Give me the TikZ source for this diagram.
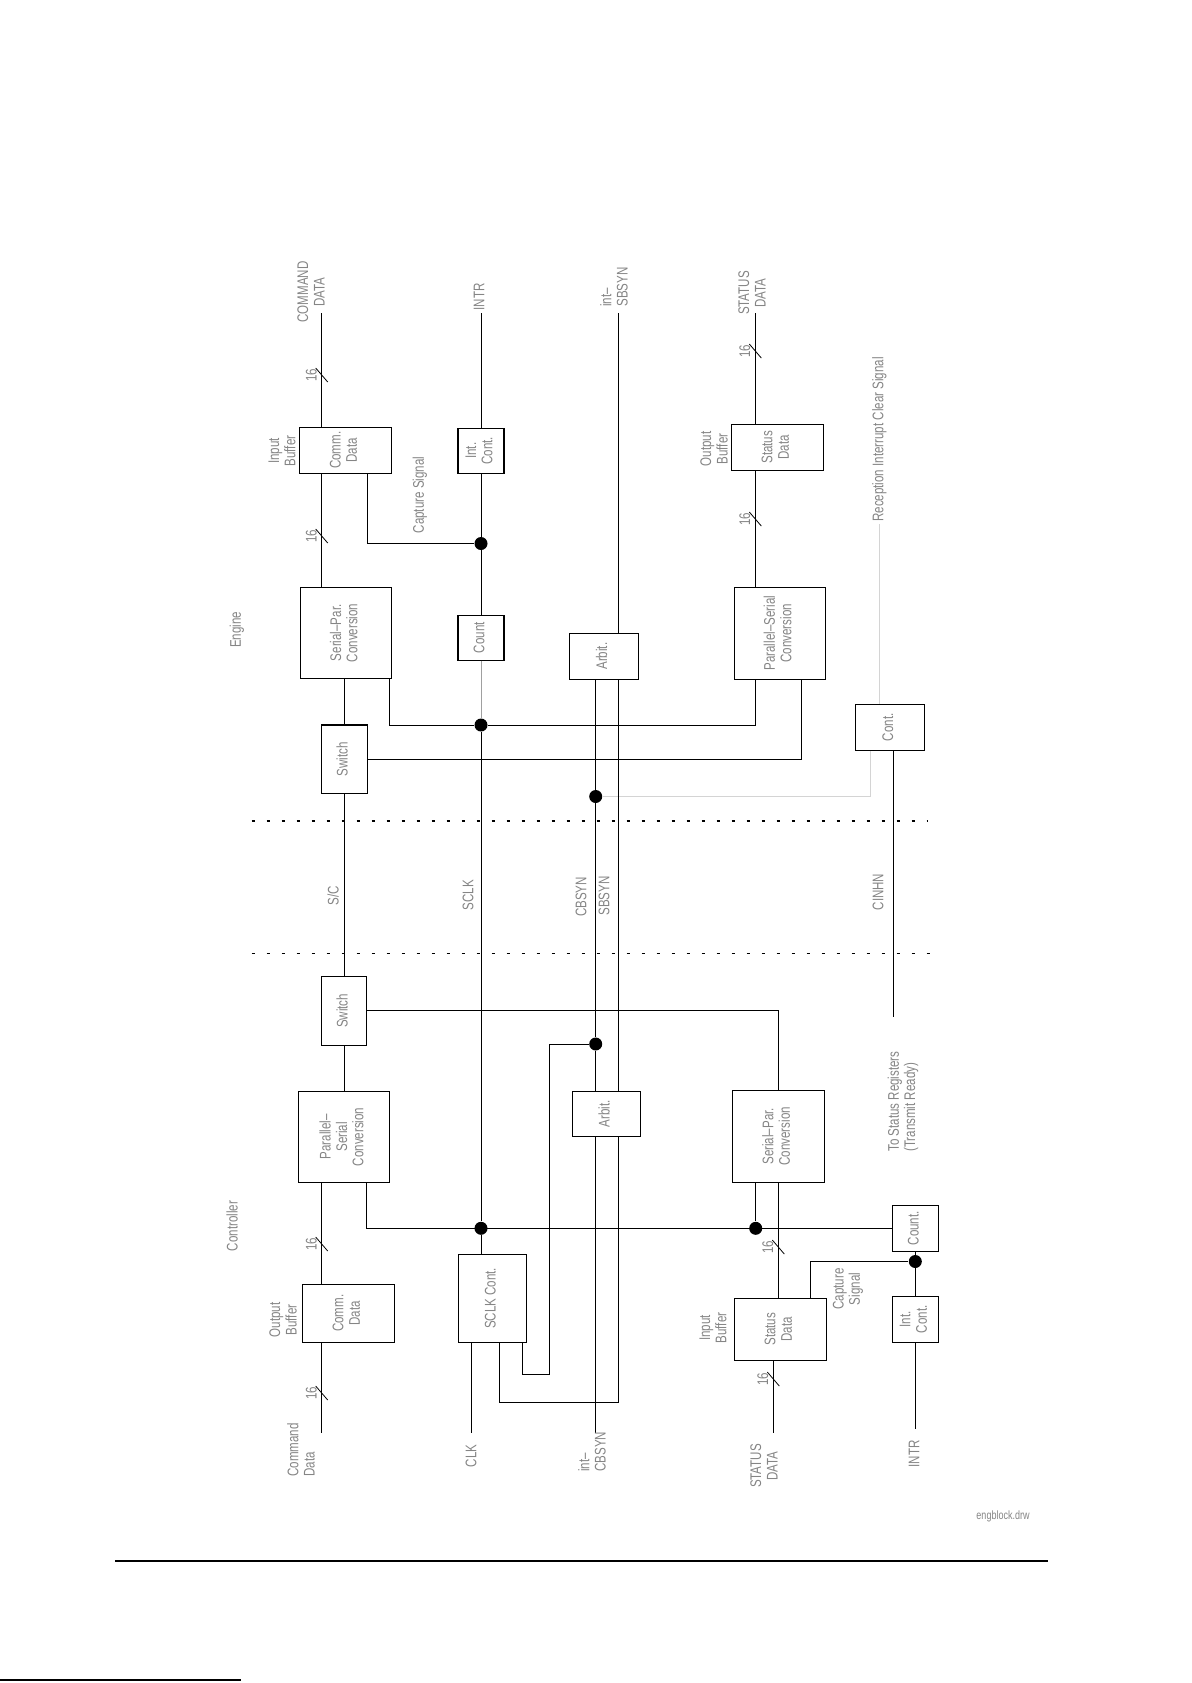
\documentclass[tikz,border=0pt]{standalone}
\usepackage{fontspec}
\setmainfont{Liberation Sans}[FakeStretch=0.75]
\usetikzlibrary{calc}
\newcommand{\dfont}{\fontsize{7.7}{8.2}\selectfont}
\newcommand{\vt}[1]{\rotatebox{90}{\begin{tabular}{@{}c@{}}#1\end{tabular}}}
\definecolor{inkgray}{HTML}{858585}
\definecolor{wiregray}{HTML}{A0A0A0}
\definecolor{palegray}{HTML}{D4D4D4}
\tikzset{
  blk/.style={draw, line width=0.55pt, inner sep=0pt, font=\dfont, text=inkgray},
  lbl/.style={font=\dfont, text=inkgray, inner sep=1pt, rotate=90, align=center},
  wire/.style={line width=0.5pt},
  greywire/.style={line width=0.5pt, draw=wiregray},
  palewire/.style={line width=0.5pt, draw=palegray},
  junction/.style={circle, fill=black, inner sep=0pt, minimum size=6.5pt},
  divider/.style={line width=0.55pt, dash pattern=on 1.5pt off 6pt},
  busslash/.style={line width=0.4pt}
}
\begin{document}
\begin{tikzpicture}[x=0.5pt,y=-0.5pt]
  \fill[white] (0,0) rectangle (1191,1683);
  \useasboundingbox (0,0) rectangle (1191,1683);

  % engine side blocks
  \node[blk, minimum width=46.2pt, minimum height=23pt]   (ibE)  at (345.5,450.3) {\vt{Comm.\\Data}};
  \node[blk, minimum width=45.7pt, minimum height=45.5pt] (spE)  at (346,632.8)   {\vt{Serial--Par.\\Conversion}};
  \node[blk, minimum width=23pt, minimum height=34.2pt]   (swE)  at (344.3,759.2) {\vt{Switch}};
  \node[blk, minimum width=23pt, minimum height=22.5pt]   (icE)  at (481,450.8)   {\vt{Int.\\Cont.}};
  \node[blk, minimum width=23pt, minimum height=22.4pt]   (cntE) at (481,637.7)   {\vt{Count}};
  \node[blk, minimum width=34.5pt, minimum height=22.9pt] (arE)  at (603.8,656.2) {\vt{Arbit.}};
  \node[blk, minimum width=45.5pt, minimum height=45.9pt] (psE)  at (779.8,633.2) {\vt{Parallel--Serial\\Conversion}};
  \node[blk, minimum width=46pt, minimum height=22.9pt]   (obE)  at (777.3,447.2) {\vt{Status\\Data}};
  \node[blk, minimum width=34.5pt, minimum height=23pt]   (ctE)  at (889.8,727.3) {\vt{Cont.}};

  % controller side blocks
  \node[blk, minimum width=22.5pt, minimum height=34.5pt] (swC)  at (344.3,1010.8) {\vt{Switch}};
  \node[blk, minimum width=45.5pt, minimum height=45.5pt] (psC)  at (343.8,1136.8) {\vt{Parallel--\\Serial\\Conversion}};
  \node[blk, minimum width=46pt, minimum height=29pt]     (obC)  at (348.3,1313.3) {\vt{Comm.\\Data}};
  \node[blk, minimum width=34pt, minimum height=44pt]     (scC)  at (492.3,1298.3) {\vt{SCLK Cont.}};
  \node[blk, minimum width=34pt, minimum height=22.5pt]   (arC)  at (606.3,1113.8) {\vt{Arbit.}};
  \node[blk, minimum width=46pt, minimum height=46pt]     (spC)  at (778.3,1136.3) {\vt{Serial--Par.\\Conversion}};
  \node[blk, minimum width=46pt, minimum height=31pt]     (ibC)  at (780.3,1329.3) {\vt{Status\\Data}};
  \node[blk, minimum width=23pt, minimum height=23pt]     (cnC)  at (915.3,1228.3) {\vt{Count.}};
  \node[blk, minimum width=23pt, minimum height=23pt]     (icC)  at (915.3,1319.3) {\vt{Int.\\Cont.}};

  % junctions
  \node[junction] (dCap)   at (481,543.5) {};
  \node[junction] (dSclkE) at (481,725) {};
  \node[junction] (dCbE)   at (595.7,796.5) {};
  \node[junction] (dCbC)   at (595.7,1044) {};
  \node[junction] (dSclkC) at (481,1228.3) {};
  \node[junction] (dSpC)   at (755.7,1228.3) {};
  \node[junction] (dCapC)  at (915.3,1261.5) {};

  % free ends
  \coordinate (cmdE) at (321.7,313);
  \coordinate (intrE) at (481,313);
  \coordinate (sbE) at (618.3,313);
  \coordinate (stE) at (755.3,313);
  \coordinate (cinE) at (893.3,1016.7);
  \coordinate (cmdC) at (321.7,1433.3);
  \coordinate (clkC) at (471.7,1433.3);
  \coordinate (cbC) at (595.7,1433.3);
  \coordinate (stC) at (773.3,1433.3);
  \coordinate (intrC) at (915.3,1429.3);
  \coordinate (sbLoop) at (618.3,1402);
  \coordinate (cbLoop) at (549.3,1374);

  % engine wiring
  \draw[wire] (cmdE) -- (ibE.north -| cmdE);
  \draw[wire] (ibE.south -| cmdE) -- (spE.north -| cmdE);
  \draw[wire] ([xshift=-12.5pt]ibE.south east) |- (dCap);
  \draw[wire] (intrE) -- (icE.north);
  \draw[wire] (icE.south) -- (dCap) -- (cntE.north);
  \draw[greywire] (cntE.south) -- (dSclkE);
  \draw[wire] (sbE) -- (arE.north -| sbE);
  \draw[wire] (spE.south -| swE.north) -- (swE.north);
  \draw[wire] ([xshift=-1.2pt]spE.south east) |- (dSclkE) -| (psE.south -| stE);
  \draw[wire] (swE.east) -| ([xshift=-12pt]psE.south east);
  \draw[wire] (psE.north -| stE) -- (obE.south -| stE);
  \draw[wire] (obE.north -| stE) -- (stE);
  \draw[palewire] ([xshift=-9.9pt]ctE.south) |- (dCbE);
  \draw[wire] (ctE.south -| cinE) -- (cinE);

  % lines through the link
  \draw[wire] (swE.south) -- (swC.north);
  \draw[wire] (dSclkE) -- (dSclkC) -- (scC.north -| dSclkC);
  \draw[wire] (arE.south -| dCbE) -- (dCbE) -- (dCbC) -- (arC.north -| dCbC);
  \draw[wire] (arE.south -| sbE) -- (arC.north -| sbE);

  % controller wiring
  \draw[wire] (swC.south) -- (psC.north -| swC.south);
  \draw[wire] (swC.east) -| (spC.north);
  \draw[wire] ([xshift=-11.5pt]psC.south east) |- (cnC.west);
  \draw[wire] (spC.south -| dSpC) -- (dSpC);
  \draw[wire] (spC.south) -- (spC.south |- ibC.north);
  \draw[wire] ([xshift=15pt]ibC.north) |- (dCapC);
  \draw[wire] (cnC.south) -- (dCapC) -- (icC.north);
  \draw[wire] (icC.south) -- (intrC);
  \draw[wire] (ibC.south -| stC) -- (stC);
  \draw[wire] (psC.south -| cmdC) -- (obC.north -| cmdC);
  \draw[wire] (obC.south -| cmdC) -- (cmdC);
  \draw[wire] (scC.south -| clkC) -- (clkC);
  \draw[wire] (arC.south -| cbC) -- (cbC);
  \draw[wire] (arC.south -| sbLoop) -- (sbLoop) -| ([xshift=3.5pt]scC.south);
  \draw[wire] (dCbC) -| (cbLoop) -| ([xshift=15pt]scC.south);

  % link boundaries
  \coordinate (divA1) at (251.7,821);
  \coordinate (divA2) at (928,821);
  \coordinate (divB1) at (251.7,953.3);
  \coordinate (divB2) at (941.7,953.3);
  \draw[divider] (divA1) -- (divA2);
  \draw[divider] (divB1) -- (divB2);

  % 16-bit bus marks
  \foreach \bx/\by [count=\k] in {321.7/375, 321.7/536, 755.3/351, 755.3/519,
      321.7/1244, 321.7/1393, 778.3/1247, 773.3/1379} {
    \draw[busslash] (\bx-6,\by-7) -- (\bx+6,\by+7);
    \node[lbl] (bus\k) at (\bx-10.5,\by) {16};
  }

  % labels
  \node[lbl] (lCmdE)  at (311,292)  {COMMAND\\DATA};
  \node[lbl] (lIbE)   at (282,451)  {Input\\Buffer};
  \node[lbl] (lCapE)  at (420,495)  {Capture Signal};
  \node[lbl] (lIntrE) at (479,297)  {INTR};
  \node[lbl, align=left, anchor=west] (lSbE) at (614,309) {int--\\SBSYN};
  \node[lbl] (lEng)   at (237,630)  {Engine};
  \node[lbl] (lObE)   at (714,449)  {Output\\Buffer};
  \node[lbl] (lStE)   at (752,293)  {STATUS\\DATA};
  \node[lbl, anchor=west] (rics) at (879.3,524) {Reception Interrupt Clear Signal};
  \draw[palewire] (rics.west) -- (ctE.north -| rics.west);
  \node[lbl] (lSC)    at (333,896)  {S/C};
  \node[lbl] (lSclk)  at (468,895)  {SCLK};
  \node[lbl] (lCb)    at (581,897)  {CBSYN};
  \node[lbl] (lSb)    at (604,896)  {SBSYN};
  \node[lbl] (lCin)   at (878,892)  {CINHN};
  \node[lbl, align=left, anchor=west] (lTsr) at (903,1154) {To Status Registers\\(Transmit Ready)};
  \node[lbl] (lCtl)   at (232,1226) {Controller};
  \node[lbl] (lObC)   at (283,1320) {Output\\Buffer};
  \node[lbl, align=left, anchor=west] (lCmdC) at (301,1479) {Command\\Data};
  \node[lbl] (lClk)   at (471,1456) {CLK};
  \node[lbl, align=left, anchor=west] (lCbC) at (592,1474) {int--\\CBSYN};
  \node[lbl] (lIbC)   at (713,1328) {Input\\Buffer};
  \node[lbl] (lCapC)  at (848,1289) {Capture\\Signal};
  \node[lbl] (lStC)   at (764,1466) {STATUS\\DATA};
  \node[lbl] (lIntrC) at (914,1454) {INTR};
  \node[font=\fontsize{6}{7}\selectfont, text=inkgray, inner sep=0pt] (lFile) at (1003,1516) {engblock.drw};

  % page rules
  \coordinate (ruleL) at (115,1561);
  \coordinate (ruleR) at (1048,1561);
  \draw[line width=0.7pt] (ruleL) -- (ruleR);
  \coordinate (footL) at (0,1680);
  \coordinate (footR) at (241,1680);
  \draw[line width=0.6pt] (footL) -- (footR);
\end{tikzpicture}
\end{document}
